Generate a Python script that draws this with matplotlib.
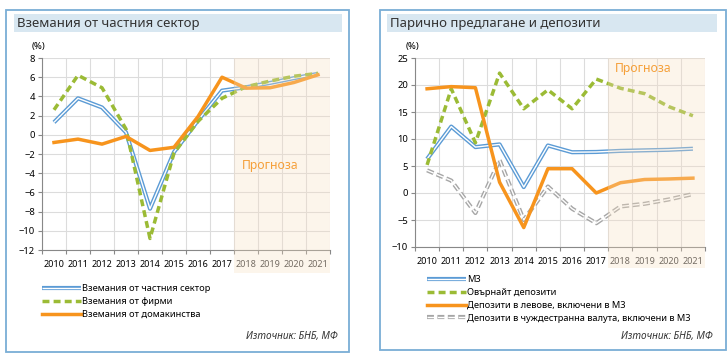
import matplotlib
matplotlib.use("Agg")
import matplotlib.pyplot as plt
import matplotlib.patches as patches
from matplotlib.lines import Line2D

plt.rcParams['font.family'] = ['Noto Sans', 'DejaVu Sans']
plt.rcParams['lines.scale_dashes'] = False

years = [str(y) for y in range(2010, 2022)]
n_hist = 8  # 2010-2017 actual, 2018-2021 forecast

# left chart
private = [1.3, 3.8, 2.85, 0.25, -7.7, -1.8, 1.5, 4.6, 4.95, 5.4, 5.9, 6.35]
firms = [2.6, 6.2, 4.9, 0.6, -10.8, -1.9, 1.4, 3.8, 5.0, 5.6, 6.1, 6.4]
households = [-0.8, -0.45, -0.97, -0.17, -1.63, -1.3, 1.9, 6.0, 4.86, 4.9, 5.45, 6.25]

# right chart
m3 = [6.3, 12.3, 8.5, 9.0, 1.1, 8.8, 7.55, 7.6, 7.8, 7.9, 8.0, 8.2]
overnight = [5.2, 19.3, 9.3, 22.2, 15.6, 19.1, 15.6, 21.1, 19.4, 18.4, 16.0, 14.3]
lev_dep = [19.3, 19.7, 19.5, 2.0, -6.4, 4.5, 4.5, 0.0, 1.9, 2.5, 2.6, 2.75]
fx_dep = [4.2, 2.3, -3.7, 6.1, -5.0, 1.2, -2.9, -5.6, -2.5, -2.0, -1.2, -0.2]

BLUE = '#5b9bd5'
GREEN = '#9bbb35'
ORANGE = '#f7941d'
GRAY = '#a6a6a6'
W, H = 728, 358

fig = plt.figure(figsize=(W / 100, H / 100), dpi=100)


def fx(px):
    return px / W


def fy(py):
    return 1 - py / H


def panel(x0, x1, y0, y1, tx0, tx1, title):
    fig.patches.append(patches.Rectangle((fx(x0), fy(y1)), fx(x1 - x0), (y1 - y0) / H,
                                         transform=fig.transFigure, fill=False,
                                         edgecolor='#7aaed6', lw=1.3))
    fig.patches.append(patches.Rectangle((fx(tx0), fy(32)), fx(tx1 - tx0), 18 / H,
                                         transform=fig.transFigure, facecolor='#d8e7f1',
                                         edgecolor='none'))
    fig.text(fx(tx0 + 3), fy(23), title, fontsize=9.5, color='#333333', va='center')


def double_line(ax, x, y, color, dashed=False):
    ls = (0, (5, 2.5)) if dashed else '-'
    ax.plot(x, y, color=color, lw=3.0, ls=ls, solid_capstyle='butt', zorder=3)
    ax.plot(x, y, color='white', lw=1.0, ls=ls, solid_capstyle='butt', zorder=3)


def setup_axes(ax, ylo, yhi, ystep, below):
    x = list(range(len(years)))
    ax.set_xlim(-0.5, len(years) - 0.5)
    ax.set_ylim(ylo, yhi)
    ax.set_yticks(range(ylo, yhi + 1, ystep))
    ax.set_xticks([i - 0.5 for i in range(len(years) + 1)])
    ax.set_xticklabels([])
    ax.set_xticks(x, minor=True)
    ax.set_xticklabels(years, minor=True)
    ax.tick_params(axis='x', which='minor', length=0, pad=7, labelsize=6.5)
    ax.tick_params(axis='x', which='major', length=3, color='#888888', direction='out')
    ax.tick_params(axis='y', length=3, color='#888888', labelsize=6.8, pad=2)
    for lab in ax.get_yticklabels():
        lab.set_fontweight('bold')
    for i, lab in enumerate(ax.get_xticklabels(minor=True)):
        if i < n_hist:
            lab.set_fontweight('bold')
            lab.set_color('black')
        else:
            lab.set_color('#3a3a3a')
    ax.grid(True, which='major', color='#dcdcdc', lw=0.8)
    ax.set_axisbelow(True)
    for s in ['top', 'right']:
        ax.spines[s].set_visible(False)
    for s in ['left', 'bottom']:
        ax.spines[s].set_color('#888888')
    # forecast shading, laid over the lines so they look faded
    ax.add_patch(patches.Rectangle((n_hist / len(years), -below), 1 - n_hist / len(years),
                                   1 + below, transform=ax.transAxes,
                                   facecolor='#f8dfc0', alpha=0.3, edgecolor='none',
                                   clip_on=False, zorder=5))


panel(6, 349, 10, 352, 14, 342, 'Вземания от частния сектор')
panel(380, 726, 10, 350, 387, 717, 'Парично предлагане и депозити')
fig.text(fx(38), fy(47), '(%)', fontsize=6.8, fontweight='bold', ha='center', va='center')
fig.text(fx(412), fy(46), '(%)', fontsize=6.8, fontweight='bold', ha='center', va='center')

xs = list(range(len(years)))

# left
ax1 = fig.add_axes([fx(42), fy(250), fx(288), 192 / H])
setup_axes(ax1, -12, 8, 2, 0.12)
double_line(ax1, xs, private, BLUE)
ax1.plot(xs, firms, color=GREEN, lw=2.5, ls=(0, (5, 3)), zorder=3)
ax1.plot(xs, households, color=ORANGE, lw=2.5, zorder=4)
ax1.text(9.0, -3.2, 'Прогноза', color='#f5a03a', fontsize=8.8, ha='center', va='center', zorder=6)

# right
ax2 = fig.add_axes([fx(415), fy(247), fx(290), 189 / H])
setup_axes(ax2, -10, 25, 5, 0.11)
double_line(ax2, xs, m3, BLUE)
ax2.plot(xs, overnight, color=GREEN, lw=2.5, ls=(0, (5, 3)), zorder=3)
ax2.plot(xs, lev_dep, color=ORANGE, lw=2.5, zorder=4)
double_line(ax2, xs, fx_dep, GRAY, dashed=True)
ax2.text(8.95, 23.1, 'Прогноза', color='#f5a03a', fontsize=8.8, ha='center', va='center', zorder=6)


def dbl_handle(color, dashed=False):
    ls = (0, (5, 2.5)) if dashed else '-'
    return (Line2D([], [], color=color, lw=3.0, ls=ls, solid_capstyle='butt'),
            Line2D([], [], color='white', lw=1.0, ls=ls, solid_capstyle='butt'))


green_h = Line2D([], [], color=GREEN, lw=2.5, ls=(0, (5, 3)))
orange_h = Line2D([], [], color=ORANGE, lw=2.5)

leg_kw = dict(loc='upper left', frameon=False, fontsize=6.7, handlelength=4.2,
              handletextpad=0.15, labelspacing=0.42, borderaxespad=0, borderpad=0)
fig.legend([dbl_handle(BLUE), green_h, orange_h],
           ['Вземания от частния сектор', 'Вземания от фирми', 'Вземания от домакинства'],
           bbox_to_anchor=(fx(42), fy(284)), **leg_kw)
fig.legend([dbl_handle(BLUE), green_h, orange_h, dbl_handle(GRAY, True)],
           ['М3', 'Овърнайт депозити', 'Депозити в левове, включени в М3',
            'Депозити в чуждестранна валута, включени в М3'],
           bbox_to_anchor=(fx(427), fy(275)), **leg_kw)

fig.text(fx(338), fy(337), 'Източник: БНБ, МФ', fontsize=7.2, style='italic',
         color='#333333', ha='right', va='center')
fig.text(fx(713), fy(336), 'Източник: БНБ, МФ', fontsize=7.2, style='italic',
         color='#333333', ha='right', va='center')

fig.savefig('out.png', dpi=100)
